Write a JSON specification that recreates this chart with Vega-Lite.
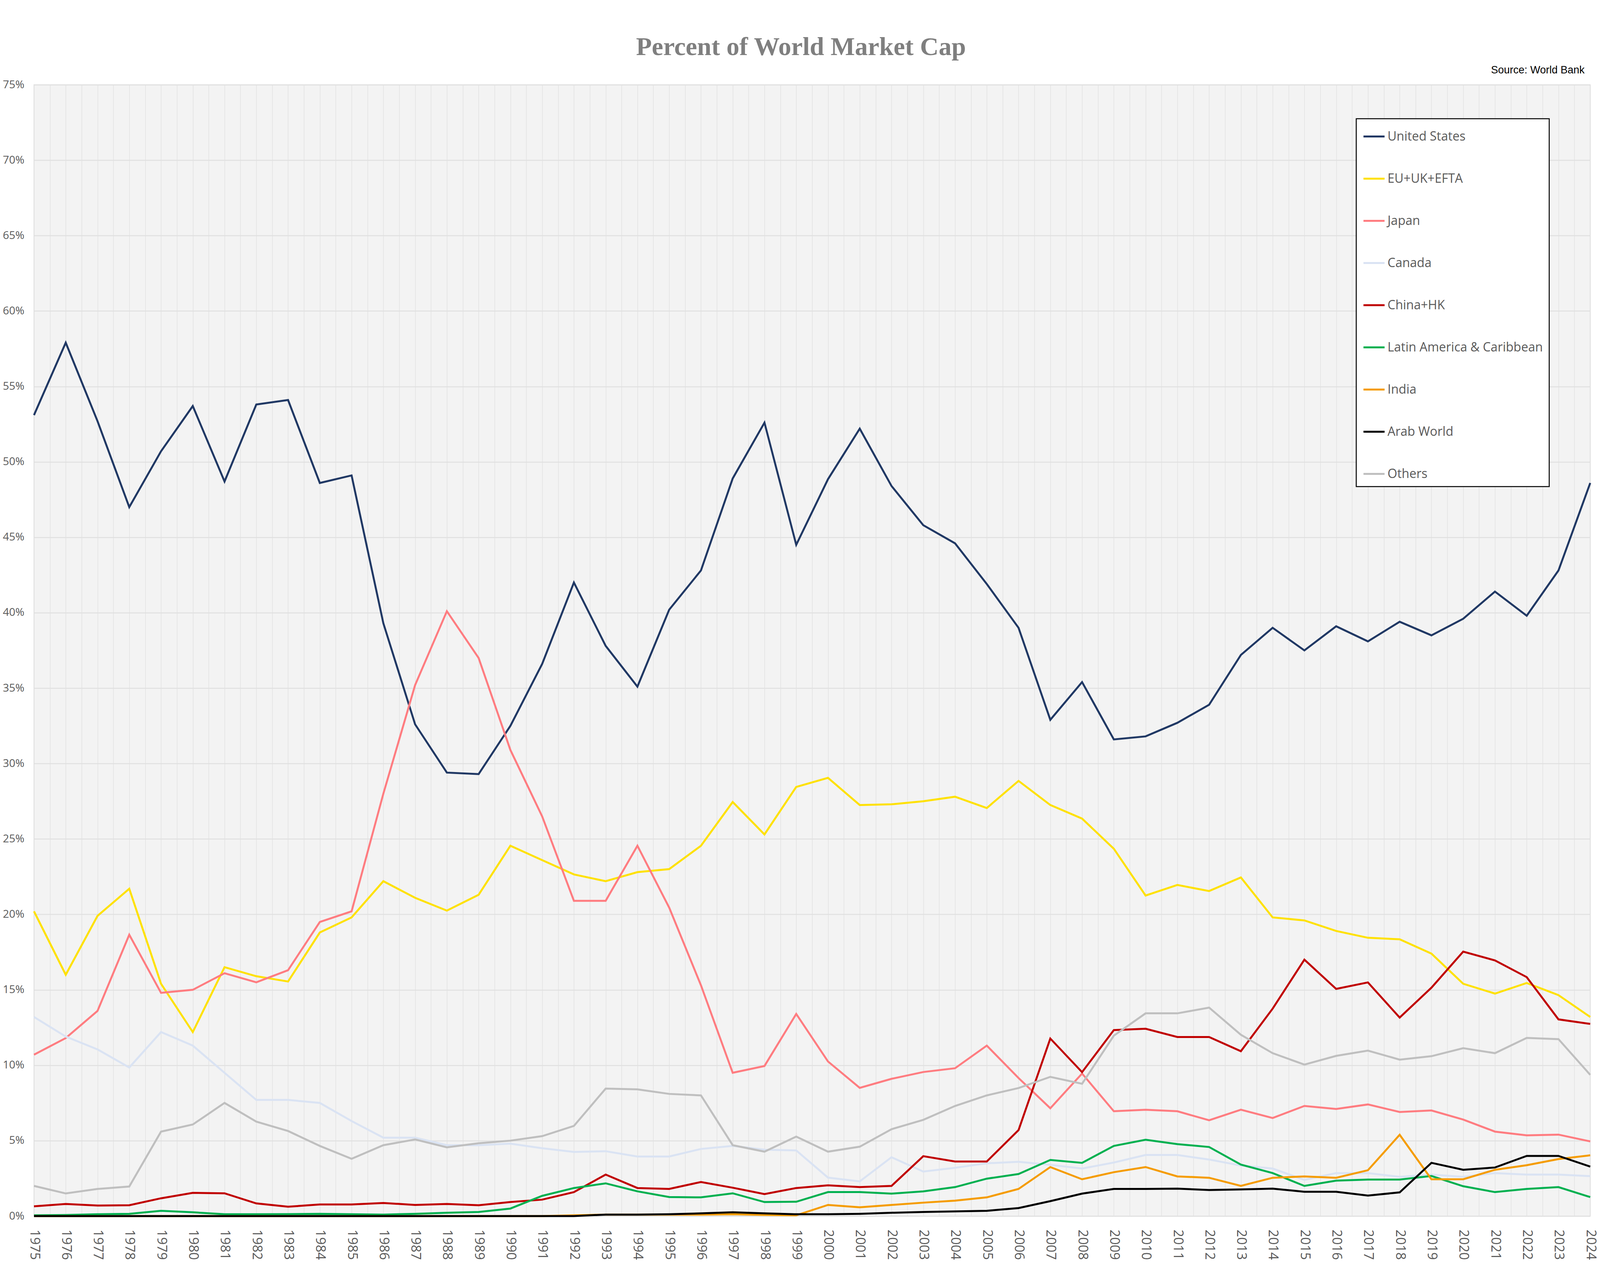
{
  "$schema": "https://vega.github.io/schema/vega-lite/v6.json",
  "width": 3984,
  "height": 2897,
  "autosize": {"type": "none"},
  "padding": {"left": 87, "top": 217, "right": 29, "bottom": 156},
  "background": "white",
  "data": {
    "values": [
      {"Year":1975,"Region":"United States","Value":53.1},{"Year":1976,"Region":"United States","Value":57.9},{"Year":1977,"Region":"United States","Value":52.7},{"Year":1978,"Region":"United States","Value":47.0},{"Year":1979,"Region":"United States","Value":50.7},
      {"Year":1980,"Region":"United States","Value":53.7},{"Year":1981,"Region":"United States","Value":48.7},{"Year":1982,"Region":"United States","Value":53.8},{"Year":1983,"Region":"United States","Value":54.1},{"Year":1984,"Region":"United States","Value":48.6},
      {"Year":1985,"Region":"United States","Value":49.1},{"Year":1986,"Region":"United States","Value":39.3},{"Year":1987,"Region":"United States","Value":32.6},{"Year":1988,"Region":"United States","Value":29.4},{"Year":1989,"Region":"United States","Value":29.3},
      {"Year":1990,"Region":"United States","Value":32.5},{"Year":1991,"Region":"United States","Value":36.6},{"Year":1992,"Region":"United States","Value":42.0},{"Year":1993,"Region":"United States","Value":37.8},{"Year":1994,"Region":"United States","Value":35.1},
      {"Year":1995,"Region":"United States","Value":40.2},{"Year":1996,"Region":"United States","Value":42.8},{"Year":1997,"Region":"United States","Value":48.9},{"Year":1998,"Region":"United States","Value":52.6},{"Year":1999,"Region":"United States","Value":44.5},
      {"Year":2000,"Region":"United States","Value":48.85},{"Year":2001,"Region":"United States","Value":52.2},{"Year":2002,"Region":"United States","Value":48.4},{"Year":2003,"Region":"United States","Value":45.8},{"Year":2004,"Region":"United States","Value":44.6},
      {"Year":2005,"Region":"United States","Value":41.9},{"Year":2006,"Region":"United States","Value":39.0},{"Year":2007,"Region":"United States","Value":32.9},{"Year":2008,"Region":"United States","Value":35.4},{"Year":2009,"Region":"United States","Value":31.6},
      {"Year":2010,"Region":"United States","Value":31.8},{"Year":2011,"Region":"United States","Value":32.7},{"Year":2012,"Region":"United States","Value":33.9},{"Year":2013,"Region":"United States","Value":37.2},{"Year":2014,"Region":"United States","Value":39.0},
      {"Year":2015,"Region":"United States","Value":37.5},{"Year":2016,"Region":"United States","Value":39.1},{"Year":2017,"Region":"United States","Value":38.1},{"Year":2018,"Region":"United States","Value":39.4},{"Year":2019,"Region":"United States","Value":38.5},
      {"Year":2020,"Region":"United States","Value":39.6},{"Year":2021,"Region":"United States","Value":41.4},{"Year":2022,"Region":"United States","Value":39.8},{"Year":2023,"Region":"United States","Value":42.8},{"Year":2024,"Region":"United States","Value":48.6},
      {"Year":1975,"Region":"EU+UK+EFTA","Value":20.2},{"Year":1976,"Region":"EU+UK+EFTA","Value":16.0},{"Year":1977,"Region":"EU+UK+EFTA","Value":19.9},{"Year":1978,"Region":"EU+UK+EFTA","Value":21.7},{"Year":1979,"Region":"EU+UK+EFTA","Value":15.4},
      {"Year":1980,"Region":"EU+UK+EFTA","Value":12.2},{"Year":1981,"Region":"EU+UK+EFTA","Value":16.5},{"Year":1982,"Region":"EU+UK+EFTA","Value":15.9},{"Year":1983,"Region":"EU+UK+EFTA","Value":15.55},{"Year":1984,"Region":"EU+UK+EFTA","Value":18.8},
      {"Year":1985,"Region":"EU+UK+EFTA","Value":19.8},{"Year":1986,"Region":"EU+UK+EFTA","Value":22.2},{"Year":1987,"Region":"EU+UK+EFTA","Value":21.1},{"Year":1988,"Region":"EU+UK+EFTA","Value":20.25},{"Year":1989,"Region":"EU+UK+EFTA","Value":21.3},
      {"Year":1990,"Region":"EU+UK+EFTA","Value":24.55},{"Year":1991,"Region":"EU+UK+EFTA","Value":23.6},{"Year":1992,"Region":"EU+UK+EFTA","Value":22.65},{"Year":1993,"Region":"EU+UK+EFTA","Value":22.2},{"Year":1994,"Region":"EU+UK+EFTA","Value":22.8},
      {"Year":1995,"Region":"EU+UK+EFTA","Value":23.0},{"Year":1996,"Region":"EU+UK+EFTA","Value":24.55},{"Year":1997,"Region":"EU+UK+EFTA","Value":27.45},{"Year":1998,"Region":"EU+UK+EFTA","Value":25.3},{"Year":1999,"Region":"EU+UK+EFTA","Value":28.45},
      {"Year":2000,"Region":"EU+UK+EFTA","Value":29.05},{"Year":2001,"Region":"EU+UK+EFTA","Value":27.25},{"Year":2002,"Region":"EU+UK+EFTA","Value":27.3},{"Year":2003,"Region":"EU+UK+EFTA","Value":27.5},{"Year":2004,"Region":"EU+UK+EFTA","Value":27.8},
      {"Year":2005,"Region":"EU+UK+EFTA","Value":27.05},{"Year":2006,"Region":"EU+UK+EFTA","Value":28.85},{"Year":2007,"Region":"EU+UK+EFTA","Value":27.25},{"Year":2008,"Region":"EU+UK+EFTA","Value":26.35},{"Year":2009,"Region":"EU+UK+EFTA","Value":24.35},
      {"Year":2010,"Region":"EU+UK+EFTA","Value":21.25},{"Year":2011,"Region":"EU+UK+EFTA","Value":21.95},{"Year":2012,"Region":"EU+UK+EFTA","Value":21.55},{"Year":2013,"Region":"EU+UK+EFTA","Value":22.45},{"Year":2014,"Region":"EU+UK+EFTA","Value":19.8},
      {"Year":2015,"Region":"EU+UK+EFTA","Value":19.6},{"Year":2016,"Region":"EU+UK+EFTA","Value":18.9},{"Year":2017,"Region":"EU+UK+EFTA","Value":18.45},{"Year":2018,"Region":"EU+UK+EFTA","Value":18.35},{"Year":2019,"Region":"EU+UK+EFTA","Value":17.4},
      {"Year":2020,"Region":"EU+UK+EFTA","Value":15.4},{"Year":2021,"Region":"EU+UK+EFTA","Value":14.75},{"Year":2022,"Region":"EU+UK+EFTA","Value":15.45},{"Year":2023,"Region":"EU+UK+EFTA","Value":14.65},{"Year":2024,"Region":"EU+UK+EFTA","Value":13.2},
      {"Year":1975,"Region":"Japan","Value":10.7},{"Year":1976,"Region":"Japan","Value":11.8},{"Year":1977,"Region":"Japan","Value":13.6},{"Year":1978,"Region":"Japan","Value":18.65},{"Year":1979,"Region":"Japan","Value":14.8},
      {"Year":1980,"Region":"Japan","Value":15.0},{"Year":1981,"Region":"Japan","Value":16.1},{"Year":1982,"Region":"Japan","Value":15.5},{"Year":1983,"Region":"Japan","Value":16.3},{"Year":1984,"Region":"Japan","Value":19.5},
      {"Year":1985,"Region":"Japan","Value":20.2},{"Year":1986,"Region":"Japan","Value":28.0},{"Year":1987,"Region":"Japan","Value":35.2},{"Year":1988,"Region":"Japan","Value":40.1},{"Year":1989,"Region":"Japan","Value":37.0},
      {"Year":1990,"Region":"Japan","Value":30.9},{"Year":1991,"Region":"Japan","Value":26.5},{"Year":1992,"Region":"Japan","Value":20.9},{"Year":1993,"Region":"Japan","Value":20.9},{"Year":1994,"Region":"Japan","Value":24.55},
      {"Year":1995,"Region":"Japan","Value":20.45},{"Year":1996,"Region":"Japan","Value":15.3},{"Year":1997,"Region":"Japan","Value":9.5},{"Year":1998,"Region":"Japan","Value":9.95},{"Year":1999,"Region":"Japan","Value":13.4},
      {"Year":2000,"Region":"Japan","Value":10.25},{"Year":2001,"Region":"Japan","Value":8.5},{"Year":2002,"Region":"Japan","Value":9.1},{"Year":2003,"Region":"Japan","Value":9.55},{"Year":2004,"Region":"Japan","Value":9.8},
      {"Year":2005,"Region":"Japan","Value":11.3},{"Year":2006,"Region":"Japan","Value":9.15},{"Year":2007,"Region":"Japan","Value":7.15},{"Year":2008,"Region":"Japan","Value":9.45},{"Year":2009,"Region":"Japan","Value":6.95},
      {"Year":2010,"Region":"Japan","Value":7.05},{"Year":2011,"Region":"Japan","Value":6.95},{"Year":2012,"Region":"Japan","Value":6.35},{"Year":2013,"Region":"Japan","Value":7.05},{"Year":2014,"Region":"Japan","Value":6.5},
      {"Year":2015,"Region":"Japan","Value":7.3},{"Year":2016,"Region":"Japan","Value":7.1},{"Year":2017,"Region":"Japan","Value":7.4},{"Year":2018,"Region":"Japan","Value":6.9},{"Year":2019,"Region":"Japan","Value":7.0},
      {"Year":2020,"Region":"Japan","Value":6.4},{"Year":2021,"Region":"Japan","Value":5.6},{"Year":2022,"Region":"Japan","Value":5.35},{"Year":2023,"Region":"Japan","Value":5.4},{"Year":2024,"Region":"Japan","Value":4.95},
      {"Year":1975,"Region":"Canada","Value":13.2},{"Year":1976,"Region":"Canada","Value":11.9},{"Year":1977,"Region":"Canada","Value":11.05},{"Year":1978,"Region":"Canada","Value":9.85},{"Year":1979,"Region":"Canada","Value":12.2},
      {"Year":1980,"Region":"Canada","Value":11.3},{"Year":1981,"Region":"Canada","Value":9.5},{"Year":1982,"Region":"Canada","Value":7.7},{"Year":1983,"Region":"Canada","Value":7.7},{"Year":1984,"Region":"Canada","Value":7.5},
      {"Year":1985,"Region":"Canada","Value":6.3},{"Year":1986,"Region":"Canada","Value":5.2},{"Year":1987,"Region":"Canada","Value":5.2},{"Year":1988,"Region":"Canada","Value":4.7},{"Year":1989,"Region":"Canada","Value":4.7},
      {"Year":1990,"Region":"Canada","Value":4.8},{"Year":1991,"Region":"Canada","Value":4.5},{"Year":1992,"Region":"Canada","Value":4.25},{"Year":1993,"Region":"Canada","Value":4.3},{"Year":1994,"Region":"Canada","Value":3.95},
      {"Year":1995,"Region":"Canada","Value":3.95},{"Year":1996,"Region":"Canada","Value":4.45},{"Year":1997,"Region":"Canada","Value":4.65},{"Year":1998,"Region":"Canada","Value":4.4},{"Year":1999,"Region":"Canada","Value":4.35},
      {"Year":2000,"Region":"Canada","Value":2.55},{"Year":2001,"Region":"Canada","Value":2.3},{"Year":2002,"Region":"Canada","Value":3.9},{"Year":2003,"Region":"Canada","Value":2.95},{"Year":2004,"Region":"Canada","Value":3.2},
      {"Year":2005,"Region":"Canada","Value":3.5},{"Year":2006,"Region":"Canada","Value":3.6},{"Year":2007,"Region":"Canada","Value":3.4},{"Year":2008,"Region":"Canada","Value":3.15},{"Year":2009,"Region":"Canada","Value":3.55},
      {"Year":2010,"Region":"Canada","Value":4.05},{"Year":2011,"Region":"Canada","Value":4.05},{"Year":2012,"Region":"Canada","Value":3.75},{"Year":2013,"Region":"Canada","Value":3.35},{"Year":2014,"Region":"Canada","Value":3.15},
      {"Year":2015,"Region":"Canada","Value":2.4},{"Year":2016,"Region":"Canada","Value":2.85},{"Year":2017,"Region":"Canada","Value":2.85},{"Year":2018,"Region":"Canada","Value":2.6},{"Year":2019,"Region":"Canada","Value":2.75},
      {"Year":2020,"Region":"Canada","Value":2.6},{"Year":2021,"Region":"Canada","Value":2.85},{"Year":2022,"Region":"Canada","Value":2.75},{"Year":2023,"Region":"Canada","Value":2.75},{"Year":2024,"Region":"Canada","Value":2.65},
      {"Year":1975,"Region":"China+HK","Value":0.65},{"Year":1976,"Region":"China+HK","Value":0.8},{"Year":1977,"Region":"China+HK","Value":0.7},{"Year":1978,"Region":"China+HK","Value":0.72},{"Year":1979,"Region":"China+HK","Value":1.18},
      {"Year":1980,"Region":"China+HK","Value":1.54},{"Year":1981,"Region":"China+HK","Value":1.51},{"Year":1982,"Region":"China+HK","Value":0.84},{"Year":1983,"Region":"China+HK","Value":0.62},{"Year":1984,"Region":"China+HK","Value":0.77},
      {"Year":1985,"Region":"China+HK","Value":0.77},{"Year":1986,"Region":"China+HK","Value":0.87},{"Year":1987,"Region":"China+HK","Value":0.74},{"Year":1988,"Region":"China+HK","Value":0.8},{"Year":1989,"Region":"China+HK","Value":0.72},
      {"Year":1990,"Region":"China+HK","Value":0.93},{"Year":1991,"Region":"China+HK","Value":1.09},{"Year":1992,"Region":"China+HK","Value":1.59},{"Year":1993,"Region":"China+HK","Value":2.75},{"Year":1994,"Region":"China+HK","Value":1.86},
      {"Year":1995,"Region":"China+HK","Value":1.8},{"Year":1996,"Region":"China+HK","Value":2.26},{"Year":1997,"Region":"China+HK","Value":1.88},{"Year":1998,"Region":"China+HK","Value":1.46},{"Year":1999,"Region":"China+HK","Value":1.86},
      {"Year":2000,"Region":"China+HK","Value":2.04},{"Year":2001,"Region":"China+HK","Value":1.92},{"Year":2002,"Region":"China+HK","Value":2.0},{"Year":2003,"Region":"China+HK","Value":3.97},{"Year":2004,"Region":"China+HK","Value":3.62},
      {"Year":2005,"Region":"China+HK","Value":3.62},{"Year":2006,"Region":"China+HK","Value":5.7},{"Year":2007,"Region":"China+HK","Value":11.77},{"Year":2008,"Region":"China+HK","Value":9.54},{"Year":2009,"Region":"China+HK","Value":12.33},
      {"Year":2010,"Region":"China+HK","Value":12.42},{"Year":2011,"Region":"China+HK","Value":11.87},{"Year":2012,"Region":"China+HK","Value":11.87},{"Year":2013,"Region":"China+HK","Value":10.93},{"Year":2014,"Region":"China+HK","Value":13.75},
      {"Year":2015,"Region":"China+HK","Value":17.0},{"Year":2016,"Region":"China+HK","Value":15.06},{"Year":2017,"Region":"China+HK","Value":15.49},{"Year":2018,"Region":"China+HK","Value":13.16},{"Year":2019,"Region":"China+HK","Value":15.14},
      {"Year":2020,"Region":"China+HK","Value":17.53},{"Year":2021,"Region":"China+HK","Value":16.95},{"Year":2022,"Region":"China+HK","Value":15.84},{"Year":2023,"Region":"China+HK","Value":13.04},{"Year":2024,"Region":"China+HK","Value":12.74},
      {"Year":1975,"Region":"Latin America & Caribbean","Value":0.05},{"Year":1976,"Region":"Latin America & Caribbean","Value":0.07},{"Year":1977,"Region":"Latin America & Caribbean","Value":0.12},{"Year":1978,"Region":"Latin America & Caribbean","Value":0.15},{"Year":1979,"Region":"Latin America & Caribbean","Value":0.35},
      {"Year":1980,"Region":"Latin America & Caribbean","Value":0.25},{"Year":1981,"Region":"Latin America & Caribbean","Value":0.12},{"Year":1982,"Region":"Latin America & Caribbean","Value":0.12},{"Year":1983,"Region":"Latin America & Caribbean","Value":0.13},{"Year":1984,"Region":"Latin America & Caribbean","Value":0.15},
      {"Year":1985,"Region":"Latin America & Caribbean","Value":0.12},{"Year":1986,"Region":"Latin America & Caribbean","Value":0.1},{"Year":1987,"Region":"Latin America & Caribbean","Value":0.15},{"Year":1988,"Region":"Latin America & Caribbean","Value":0.22},{"Year":1989,"Region":"Latin America & Caribbean","Value":0.27},
      {"Year":1990,"Region":"Latin America & Caribbean","Value":0.5},{"Year":1991,"Region":"Latin America & Caribbean","Value":1.34},{"Year":1992,"Region":"Latin America & Caribbean","Value":1.86},{"Year":1993,"Region":"Latin America & Caribbean","Value":2.17},{"Year":1994,"Region":"Latin America & Caribbean","Value":1.64},
      {"Year":1995,"Region":"Latin America & Caribbean","Value":1.26},{"Year":1996,"Region":"Latin America & Caribbean","Value":1.24},{"Year":1997,"Region":"Latin America & Caribbean","Value":1.51},{"Year":1998,"Region":"Latin America & Caribbean","Value":0.93},{"Year":1999,"Region":"Latin America & Caribbean","Value":0.95},
      {"Year":2000,"Region":"Latin America & Caribbean","Value":1.59},{"Year":2001,"Region":"Latin America & Caribbean","Value":1.59},{"Year":2002,"Region":"Latin America & Caribbean","Value":1.49},{"Year":2003,"Region":"Latin America & Caribbean","Value":1.64},{"Year":2004,"Region":"Latin America & Caribbean","Value":1.92},
      {"Year":2005,"Region":"Latin America & Caribbean","Value":2.48},{"Year":2006,"Region":"Latin America & Caribbean","Value":2.79},{"Year":2007,"Region":"Latin America & Caribbean","Value":3.72},{"Year":2008,"Region":"Latin America & Caribbean","Value":3.53},{"Year":2009,"Region":"Latin America & Caribbean","Value":4.65},
      {"Year":2010,"Region":"Latin America & Caribbean","Value":5.06},{"Year":2011,"Region":"Latin America & Caribbean","Value":4.77},{"Year":2012,"Region":"Latin America & Caribbean","Value":4.58},{"Year":2013,"Region":"Latin America & Caribbean","Value":3.41},{"Year":2014,"Region":"Latin America & Caribbean","Value":2.85},
      {"Year":2015,"Region":"Latin America & Caribbean","Value":2.0},{"Year":2016,"Region":"Latin America & Caribbean","Value":2.35},{"Year":2017,"Region":"Latin America & Caribbean","Value":2.42},{"Year":2018,"Region":"Latin America & Caribbean","Value":2.42},{"Year":2019,"Region":"Latin America & Caribbean","Value":2.66},
      {"Year":2020,"Region":"Latin America & Caribbean","Value":1.98},{"Year":2021,"Region":"Latin America & Caribbean","Value":1.59},{"Year":2022,"Region":"Latin America & Caribbean","Value":1.8},{"Year":2023,"Region":"Latin America & Caribbean","Value":1.92},{"Year":2024,"Region":"Latin America & Caribbean","Value":1.26},
      {"Year":1975,"Region":"India","Value":0},{"Year":1976,"Region":"India","Value":0},{"Year":1977,"Region":"India","Value":0},{"Year":1978,"Region":"India","Value":0},{"Year":1979,"Region":"India","Value":0},
      {"Year":1980,"Region":"India","Value":0},{"Year":1981,"Region":"India","Value":0},{"Year":1982,"Region":"India","Value":0},{"Year":1983,"Region":"India","Value":0},{"Year":1984,"Region":"India","Value":0},
      {"Year":1985,"Region":"India","Value":0},{"Year":1986,"Region":"India","Value":0},{"Year":1987,"Region":"India","Value":0},{"Year":1988,"Region":"India","Value":0},{"Year":1989,"Region":"India","Value":0},
      {"Year":1990,"Region":"India","Value":0},{"Year":1991,"Region":"India","Value":0},{"Year":1992,"Region":"India","Value":0.05},{"Year":1993,"Region":"India","Value":0.1},{"Year":1994,"Region":"India","Value":0.1},
      {"Year":1995,"Region":"India","Value":0.1},{"Year":1996,"Region":"India","Value":0.1},{"Year":1997,"Region":"India","Value":0.12},{"Year":1998,"Region":"India","Value":0.08},{"Year":1999,"Region":"India","Value":0.05},
      {"Year":2000,"Region":"India","Value":0.74},{"Year":2001,"Region":"India","Value":0.58},{"Year":2002,"Region":"India","Value":0.74},{"Year":2003,"Region":"India","Value":0.89},{"Year":2004,"Region":"India","Value":1.02},
      {"Year":2005,"Region":"India","Value":1.24},{"Year":2006,"Region":"India","Value":1.8},{"Year":2007,"Region":"India","Value":3.25},{"Year":2008,"Region":"India","Value":2.44},{"Year":2009,"Region":"India","Value":2.91},
      {"Year":2010,"Region":"India","Value":3.25},{"Year":2011,"Region":"India","Value":2.63},{"Year":2012,"Region":"India","Value":2.54},{"Year":2013,"Region":"India","Value":2.0},{"Year":2014,"Region":"India","Value":2.54},
      {"Year":2015,"Region":"India","Value":2.63},{"Year":2016,"Region":"India","Value":2.54},{"Year":2017,"Region":"India","Value":3.04},{"Year":2018,"Region":"India","Value":5.39},{"Year":2019,"Region":"India","Value":2.44},
      {"Year":2020,"Region":"India","Value":2.44},{"Year":2021,"Region":"India","Value":3.07},{"Year":2022,"Region":"India","Value":3.37},{"Year":2023,"Region":"India","Value":3.78},{"Year":2024,"Region":"India","Value":4.03},
      {"Year":1975,"Region":"Arab World","Value":0},{"Year":1976,"Region":"Arab World","Value":0},{"Year":1977,"Region":"Arab World","Value":0},{"Year":1978,"Region":"Arab World","Value":0},{"Year":1979,"Region":"Arab World","Value":0},
      {"Year":1980,"Region":"Arab World","Value":0},{"Year":1981,"Region":"Arab World","Value":0},{"Year":1982,"Region":"Arab World","Value":0},{"Year":1983,"Region":"Arab World","Value":0},{"Year":1984,"Region":"Arab World","Value":0},
      {"Year":1985,"Region":"Arab World","Value":0},{"Year":1986,"Region":"Arab World","Value":0},{"Year":1987,"Region":"Arab World","Value":0},{"Year":1988,"Region":"Arab World","Value":0},{"Year":1989,"Region":"Arab World","Value":0},
      {"Year":1990,"Region":"Arab World","Value":0},{"Year":1991,"Region":"Arab World","Value":0},{"Year":1992,"Region":"Arab World","Value":0},{"Year":1993,"Region":"Arab World","Value":0.1},{"Year":1994,"Region":"Arab World","Value":0.1},
      {"Year":1995,"Region":"Arab World","Value":0.12},{"Year":1996,"Region":"Arab World","Value":0.18},{"Year":1997,"Region":"Arab World","Value":0.25},{"Year":1998,"Region":"Arab World","Value":0.18},{"Year":1999,"Region":"Arab World","Value":0.12},
      {"Year":2000,"Region":"Arab World","Value":0.12},{"Year":2001,"Region":"Arab World","Value":0.15},{"Year":2002,"Region":"Arab World","Value":0.22},{"Year":2003,"Region":"Arab World","Value":0.27},{"Year":2004,"Region":"Arab World","Value":0.31},
      {"Year":2005,"Region":"Arab World","Value":0.35},{"Year":2006,"Region":"Arab World","Value":0.53},{"Year":2007,"Region":"Arab World","Value":0.99},{"Year":2008,"Region":"Arab World","Value":1.49},{"Year":2009,"Region":"Arab World","Value":1.8},
      {"Year":2010,"Region":"Arab World","Value":1.8},{"Year":2011,"Region":"Arab World","Value":1.82},{"Year":2012,"Region":"Arab World","Value":1.73},{"Year":2013,"Region":"Arab World","Value":1.77},{"Year":2014,"Region":"Arab World","Value":1.82},
      {"Year":2015,"Region":"Arab World","Value":1.61},{"Year":2016,"Region":"Arab World","Value":1.61},{"Year":2017,"Region":"Arab World","Value":1.36},{"Year":2018,"Region":"Arab World","Value":1.57},{"Year":2019,"Region":"Arab World","Value":3.53},
      {"Year":2020,"Region":"Arab World","Value":3.07},{"Year":2021,"Region":"Arab World","Value":3.22},{"Year":2022,"Region":"Arab World","Value":3.99},{"Year":2023,"Region":"Arab World","Value":3.99},{"Year":2024,"Region":"Arab World","Value":3.28},
      {"Year":1975,"Region":"Others","Value":2.0},{"Year":1976,"Region":"Others","Value":1.5},{"Year":1977,"Region":"Others","Value":1.8},{"Year":1978,"Region":"Others","Value":1.96},{"Year":1979,"Region":"Others","Value":5.6},
      {"Year":1980,"Region":"Others","Value":6.07},{"Year":1981,"Region":"Others","Value":7.5},{"Year":1982,"Region":"Others","Value":6.26},{"Year":1983,"Region":"Others","Value":5.64},{"Year":1984,"Region":"Others","Value":4.65},
      {"Year":1985,"Region":"Others","Value":3.8},{"Year":1986,"Region":"Others","Value":4.7},{"Year":1987,"Region":"Others","Value":5.08},{"Year":1988,"Region":"Others","Value":4.56},{"Year":1989,"Region":"Others","Value":4.83},
      {"Year":1990,"Region":"Others","Value":5.0},{"Year":1991,"Region":"Others","Value":5.3},{"Year":1992,"Region":"Others","Value":5.98},{"Year":1993,"Region":"Others","Value":8.45},{"Year":1994,"Region":"Others","Value":8.4},
      {"Year":1995,"Region":"Others","Value":8.1},{"Year":1996,"Region":"Others","Value":8.0},{"Year":1997,"Region":"Others","Value":4.7},{"Year":1998,"Region":"Others","Value":4.27},{"Year":1999,"Region":"Others","Value":5.27},
      {"Year":2000,"Region":"Others","Value":4.27},{"Year":2001,"Region":"Others","Value":4.6},{"Year":2002,"Region":"Others","Value":5.76},{"Year":2003,"Region":"Others","Value":6.38},{"Year":2004,"Region":"Others","Value":7.3},
      {"Year":2005,"Region":"Others","Value":8.0},{"Year":2006,"Region":"Others","Value":8.49},{"Year":2007,"Region":"Others","Value":9.23},{"Year":2008,"Region":"Others","Value":8.77},{"Year":2009,"Region":"Others","Value":11.96},
      {"Year":2010,"Region":"Others","Value":13.44},{"Year":2011,"Region":"Others","Value":13.44},{"Year":2012,"Region":"Others","Value":13.82},{"Year":2013,"Region":"Others","Value":12.02},{"Year":2014,"Region":"Others","Value":10.8},
      {"Year":2015,"Region":"Others","Value":10.04},{"Year":2016,"Region":"Others","Value":10.62},{"Year":2017,"Region":"Others","Value":10.97},{"Year":2018,"Region":"Others","Value":10.37},{"Year":2019,"Region":"Others","Value":10.6},
      {"Year":2020,"Region":"Others","Value":11.13},{"Year":2021,"Region":"Others","Value":10.8},{"Year":2022,"Region":"Others","Value":11.81},{"Year":2023,"Region":"Others","Value":11.73},{"Year":2024,"Region":"Others","Value":9.36}
    ]
  },
  "encoding": {
    "y": {
      "field": "Value",
      "type": "quantitative",
      "scale": {"domain": [0, 75], "nice": false, "zero": false},
      "axis": {
        "title": "Source: World Bank",
        "titleAngle": 0,
        "titleX": 3969,
        "titleY": -30,
        "titleAlign": "right",
        "titleBaseline": "alphabetic",
        "titleFont": "Liberation Sans",
        "titleFontSize": 27,
        "titleFontWeight": "normal",
        "titleColor": "black",
        "values": [0, 5, 10, 15, 20, 25, 30, 35, 40, 45, 50, 55, 60, 65, 70, 75],
        "labelExpr": "datum.value + '%'",
        "grid": true,
        "gridColor": "#e0e0e0",
        "gridWidth": 2.5,
        "ticks": false,
        "domain": false,
        "labelFont": "Open Sans",
        "labelFontSize": 28,
        "labelColor": "#595959",
        "labelPadding": 25
      }
    }
  },
  "layer": [
    {
      "mark": {"type": "point", "opacity": 0},
      "encoding": {
        "x": {
          "field": "Year",
          "type": "quantitative",
          "scale": {"domain": [1975, 2024], "nice": false, "zero": false},
          "axis": {
            "orient": "top",
            "tickCount": 98,
            "grid": true,
            "gridColor": "#e0e0e0",
            "gridWidth": 1.3,
            "labels": false,
            "ticks": false,
            "domain": false,
            "title": "Percent of World Market Cap",
            "titleX": 1963,
            "titleY": -77,
            "titleAlign": "center",
            "titleBaseline": "alphabetic",
            "titleFont": "Liberation Serif",
            "titleFontWeight": "bold",
            "titleFontSize": 66,
            "titleColor": "#7f7f7f"
          }
        }
      }
    },
    {
      "mark": {"type": "line", "strokeWidth": 5},
      "encoding": {
        "x": {
          "field": "Year",
          "type": "quantitative",
          "scale": {"domain": [1975, 2024], "nice": false, "zero": false},
          "axis": {
            "orient": "bottom",
            "tickCount": 49,
            "format": "d",
            "grid": false,
            "ticks": false,
            "domain": false,
            "title": null,
            "labelAngle": 90,
            "labelAlign": "left",
            "labelBaseline": "middle",
            "labelFlush": false,
            "labelOverlap": false,
            "labelBound": false,
            "labelFont": "Open Sans",
            "labelFontSize": 34,
            "labelColor": "#595959",
            "labelPadding": 34
          }
        },
        "color": {
          "field": "Region",
          "type": "nominal",
          "scale": {
            "domain": ["United States", "EU+UK+EFTA", "Japan", "Canada", "China+HK", "Latin America & Caribbean", "India", "Arab World", "Others"],
            "range": ["#203864", "#ffe100", "#ff7c80", "#dae3f3", "#c00000", "#00b050", "#f59c00", "#000000", "#bfbfbf"]
          },
          "legend": {
            "orient": "none",
            "legendX": 3385,
            "legendY": 87,
            "title": null,
            "symbolType": "stroke",
            "symbolSize": 2916,
            "symbolStrokeWidth": 5,
            "labelFont": "Open Sans",
            "labelFontSize": 32,
            "labelColor": "#595959",
            "labelOffset": 5,
            "labelLimit": 1000,
            "rowPadding": 62,
            "padding": 16,
            "strokeColor": "black",
            "fillColor": "white"
          }
        },
        "order": {"field": "Year", "type": "quantitative"}
      }
    }
  ],
  "resolve": {"axis": {"x": "independent"}},
  "config": {
    "view": {"fill": "#f3f3f3", "stroke": "#dcdcdc", "strokeWidth": 2},
    "legend": {"strokeWidth": 2.5}
  }
}
